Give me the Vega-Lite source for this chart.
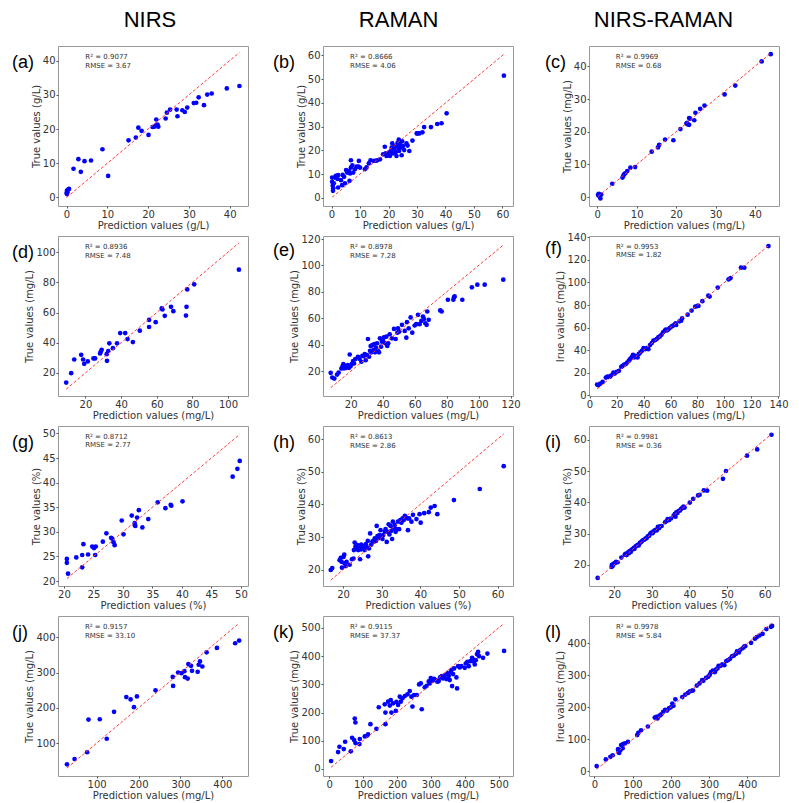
{
"$schema":"https://vega.github.io/schema/vega-lite/v6.json",
"background":"white",
"padding":{"left":11,"top":8,"right":4,"bottom":2},
"spacing":23,
"datasets":{
"a":[{"pred":0.1,"true":1.0},{"pred":0.2,"true":1.5},{"pred":0.1,"true":2.0},{"pred":0.4,"true":2.3},{"pred":0.6,"true":2.5},{"pred":0.0,"true":1.3},{"pred":1.7,"true":8.4},{"pred":2.9,"true":11.2},{"pred":3.5,"true":7.5},{"pred":4.4,"true":10.6},{"pred":6.0,"true":10.8},{"pred":8.8,"true":14.1},{"pred":10.2,"true":6.3},{"pred":15.2,"true":16.7},{"pred":17.0,"true":17.5},{"pred":17.6,"true":20.4},{"pred":18.4,"true":19.5},{"pred":20.1,"true":18.3},{"pred":21.1,"true":20.6},{"pred":21.5,"true":20.7},{"pred":22.0,"true":22.8},{"pred":22.0,"true":21.2},{"pred":22.3,"true":21.3},{"pred":22.5,"true":20.7},{"pred":24.3,"true":23.1},{"pred":24.6,"true":24.8},{"pred":25.4,"true":25.7},{"pred":27.0,"true":25.7},{"pred":27.2,"true":23.75},{"pred":28.4,"true":25.5},{"pred":29.0,"true":25.0},{"pred":29.6,"true":26.3},{"pred":31.2,"true":27.6},{"pred":31.8,"true":27.7},{"pred":32.4,"true":29.3},{"pred":33.7,"true":27.0},{"pred":34.5,"true":30.1},{"pred":35.6,"true":30.4},{"pred":39.3,"true":31.9},{"pred":42.4,"true":32.6}],
"b":[{"pred":0.2,"true":8.5},{"pred":0.2,"true":6.7},{"pred":0.4,"true":5.0},{"pred":0.5,"true":2.9},{"pred":0.6,"true":4.0},{"pred":0.8,"true":6.1},{"pred":1.2,"true":8.5},{"pred":1.5,"true":9.2},{"pred":2.3,"true":9.5},{"pred":2.3,"true":4.3},{"pred":2.1,"true":7.9},{"pred":3.3,"true":7.4},{"pred":3.7,"true":5.3},{"pred":3.9,"true":9.6},{"pred":4.4,"true":8.8},{"pred":4.7,"true":6.1},{"pred":5.1,"true":11.7},{"pred":5.5,"true":10.6},{"pred":6.1,"true":11.3},{"pred":6.3,"true":7.1},{"pred":6.5,"true":10.2},{"pred":6.8,"true":15.8},{"pred":6.8,"true":12.7},{"pred":7.3,"true":13.7},{"pred":7.6,"true":10.6},{"pred":8.2,"true":12.0},{"pred":8.8,"true":13.1},{"pred":9.4,"true":13.1},{"pred":9.6,"true":15.5},{"pred":10.0,"true":12.7},{"pred":11.7,"true":12.0},{"pred":12.3,"true":12.8},{"pred":13.1,"true":14.5},{"pred":13.7,"true":15.8},{"pred":14.9,"true":15.5},{"pred":15.6,"true":15.6},{"pred":16.1,"true":15.8},{"pred":17.0,"true":16.2},{"pred":18.1,"true":18.3},{"pred":18.7,"true":21.5},{"pred":19.0,"true":18.7},{"pred":19.3,"true":17.6},{"pred":19.6,"true":18.3},{"pred":20.1,"true":19.0},{"pred":20.5,"true":17.6},{"pred":20.8,"true":19.7},{"pred":21.1,"true":21.1},{"pred":21.3,"true":22.9},{"pred":21.6,"true":18.7},{"pred":22.0,"true":20.4},{"pred":22.2,"true":21.8},{"pred":22.5,"true":19.2},{"pred":22.8,"true":22.0},{"pred":22.8,"true":17.6},{"pred":23.2,"true":23.1},{"pred":23.4,"true":21.1},{"pred":23.6,"true":24.5},{"pred":23.7,"true":19.7},{"pred":24.0,"true":22.5},{"pred":24.2,"true":23.8},{"pred":24.3,"true":21.1},{"pred":24.6,"true":17.9},{"pred":24.8,"true":23.8},{"pred":25.1,"true":21.8},{"pred":25.5,"true":20.1},{"pred":26.3,"true":22.9},{"pred":26.7,"true":22.0},{"pred":27.3,"true":19.7},{"pred":28.4,"true":24.1},{"pred":29.9,"true":27.1},{"pred":30.2,"true":27.1},{"pred":30.8,"true":27.1},{"pred":31.9,"true":27.6},{"pred":32.5,"true":29.8},{"pred":34.9,"true":29.8},{"pred":37.1,"true":31.1},{"pred":38.6,"true":31.4},{"pred":40.4,"true":35.6},{"pred":60.5,"true":51.5}],
"c":[{"pred":0.2,"true":0.8},{"pred":0.4,"true":1.0},{"pred":0.6,"true":0.3},{"pred":0.8,"true":-0.4},{"pred":1.0,"true":0.8},{"pred":0.5,"true":0.6},{"pred":0.3,"true":0.5},{"pred":3.8,"true":4.1},{"pred":6.4,"true":6.0},{"pred":6.6,"true":6.5},{"pred":6.8,"true":7.0},{"pred":7.1,"true":7.3},{"pred":7.6,"true":8.0},{"pred":8.4,"true":9.0},{"pred":9.6,"true":9.2},{"pred":13.8,"true":13.9},{"pred":15.4,"true":15.2},{"pred":15.7,"true":16.0},{"pred":17.2,"true":17.6},{"pred":19.3,"true":17.4},{"pred":21.1,"true":20.8},{"pred":22.6,"true":22.5},{"pred":22.8,"true":22.7},{"pred":23.0,"true":22.2},{"pred":23.3,"true":22.1},{"pred":23.3,"true":24.2},{"pred":23.5,"true":24.0},{"pred":24.6,"true":23.5},{"pred":24.9,"true":25.8},{"pred":26.1,"true":27.0},{"pred":27.2,"true":28.0},{"pred":32.3,"true":31.4},{"pred":35.0,"true":34.1},{"pred":41.7,"true":41.5},{"pred":44.0,"true":43.7}],
"d":[{"pred":9.2,"true":13.6},{"pred":12.0,"true":19.8},{"pred":13.7,"true":28.9},{"pred":17.6,"true":32.0},{"pred":18.7,"true":28.9},{"pred":19.3,"true":26.0},{"pred":21.3,"true":27.6},{"pred":24.5,"true":29.6},{"pred":25.4,"true":29.6},{"pred":28.2,"true":32.9},{"pred":28.6,"true":34.0},{"pred":29.1,"true":35.3},{"pred":31.9,"true":32.4},{"pred":32.1,"true":28.0},{"pred":32.8,"true":34.4},{"pred":33.4,"true":39.6},{"pred":35.4,"true":36.4},{"pred":37.7,"true":39.6},{"pred":39.5,"true":46.4},{"pred":42.3,"true":46.4},{"pred":43.6,"true":42.4},{"pred":46.6,"true":40.4},{"pred":50.5,"true":48.0},{"pred":55.7,"true":55.1},{"pred":55.7,"true":50.4},{"pred":59.4,"true":53.6},{"pred":62.8,"true":62.7},{"pred":63.2,"true":62.0},{"pred":64.5,"true":57.8},{"pred":68.0,"true":63.8},{"pred":69.3,"true":60.9},{"pred":76.4,"true":58.0},{"pred":76.7,"true":63.8},{"pred":77.1,"true":75.3},{"pred":81.0,"true":78.7},{"pred":106.1,"true":88.4}],
"e":[{"pred":7.5,"true":18.8},{"pred":8.5,"true":15.2},{"pred":9.8,"true":14.5},{"pred":11.5,"true":17.5},{"pred":12.5,"true":19.0},{"pred":14.2,"true":22.1},{"pred":14.8,"true":23.4},{"pred":15.4,"true":25.4},{"pred":15.8,"true":22.1},{"pred":16.7,"true":24.1},{"pred":17.3,"true":22.6},{"pred":18.3,"true":24.6},{"pred":19.0,"true":22.6},{"pred":19.4,"true":32.7},{"pred":20.0,"true":23.9},{"pred":20.8,"true":25.6},{"pred":21.5,"true":27.7},{"pred":22.1,"true":25.9},{"pred":22.9,"true":29.2},{"pred":24.6,"true":31.0},{"pred":25.6,"true":29.2},{"pred":26.7,"true":27.2},{"pred":27.3,"true":31.7},{"pred":28.1,"true":31.5},{"pred":28.8,"true":33.0},{"pred":29.4,"true":28.4},{"pred":30.2,"true":32.2},{"pred":30.8,"true":44.4},{"pred":31.5,"true":31.0},{"pred":32.1,"true":35.5},{"pred":32.5,"true":39.1},{"pred":32.9,"true":34.3},{"pred":33.5,"true":39.8},{"pred":34.2,"true":36.0},{"pred":34.8,"true":40.6},{"pred":35.2,"true":34.3},{"pred":35.8,"true":37.8},{"pred":36.5,"true":41.1},{"pred":37.1,"true":35.5},{"pred":37.7,"true":34.3},{"pred":38.3,"true":44.9},{"pred":39.0,"true":38.6},{"pred":39.6,"true":42.4},{"pred":40.2,"true":43.7},{"pred":40.8,"true":45.7},{"pred":41.7,"true":41.1},{"pred":42.3,"true":46.2},{"pred":42.9,"true":39.1},{"pred":43.5,"true":41.1},{"pred":44.4,"true":48.0},{"pred":45.8,"true":44.9},{"pred":47.1,"true":52.0},{"pred":48.1,"true":44.4},{"pred":49.2,"true":49.2},{"pred":49.6,"true":52.5},{"pred":50.4,"true":50.0},{"pred":52.1,"true":55.1},{"pred":53.8,"true":50.5},{"pred":54.8,"true":45.4},{"pred":55.2,"true":57.1},{"pred":56.3,"true":52.5},{"pred":57.5,"true":60.7},{"pred":58.5,"true":49.2},{"pred":60.0,"true":54.6},{"pred":61.0,"true":55.6},{"pred":62.1,"true":62.7},{"pred":63.1,"true":55.6},{"pred":64.2,"true":58.1},{"pred":65.2,"true":61.4},{"pred":65.8,"true":59.6},{"pred":66.7,"true":56.3},{"pred":67.5,"true":55.1},{"pred":67.9,"true":65.2},{"pred":68.8,"true":58.9},{"pred":76.0,"true":66.0},{"pred":76.9,"true":65.2},{"pred":80.8,"true":74.1},{"pred":84.2,"true":74.1},{"pred":84.6,"true":75.9},{"pred":85.0,"true":76.6},{"pred":89.8,"true":74.1},{"pred":95.8,"true":83.5},{"pred":99.2,"true":85.5},{"pred":103.8,"true":85.5},{"pred":115.4,"true":89.3}],
"f":[{"pred":5.6,"true":9.5},{"pred":6.5,"true":8.9},{"pred":8.0,"true":10.4},{"pred":9.7,"true":11.9},{"pred":12.1,"true":15.7},{"pred":13.3,"true":16.6},{"pred":14.1,"true":16.3},{"pred":15.3,"true":16.6},{"pred":16.2,"true":17.8},{"pred":17.7,"true":20.2},{"pred":18.7,"true":19.3},{"pred":20.1,"true":20.8},{"pred":21.8,"true":21.7},{"pred":23.5,"true":25.2},{"pred":24.5,"true":26.1},{"pred":25.5,"true":27.0},{"pred":26.7,"true":27.6},{"pred":27.9,"true":29.1},{"pred":29.1,"true":30.6},{"pred":29.8,"true":31.8},{"pred":30.8,"true":32.9},{"pred":31.5,"true":34.1},{"pred":32.2,"true":35.9},{"pred":33.0,"true":33.5},{"pred":33.7,"true":35.0},{"pred":34.7,"true":34.1},{"pred":35.6,"true":33.5},{"pred":36.4,"true":36.5},{"pred":37.6,"true":38.0},{"pred":38.8,"true":39.5},{"pred":40.0,"true":41.8},{"pred":41.2,"true":40.9},{"pred":42.4,"true":41.8},{"pred":43.6,"true":40.9},{"pred":44.8,"true":44.5},{"pred":46.1,"true":46.3},{"pred":47.3,"true":48.4},{"pred":48.7,"true":49.0},{"pred":49.7,"true":49.9},{"pred":50.9,"true":51.3},{"pred":52.1,"true":52.2},{"pred":53.3,"true":53.7},{"pred":54.5,"true":55.8},{"pred":55.8,"true":57.3},{"pred":56.5,"true":58.2},{"pred":57.5,"true":57.6},{"pred":58.4,"true":58.5},{"pred":59.4,"true":59.6},{"pred":60.6,"true":60.8},{"pred":61.8,"true":61.7},{"pred":63.0,"true":62.6},{"pred":64.2,"true":62.3},{"pred":63.8,"true":63.8},{"pred":66.7,"true":65.6},{"pred":67.9,"true":66.2},{"pred":68.6,"true":68.2},{"pred":72.7,"true":71.5},{"pred":75.6,"true":75.1},{"pred":78.3,"true":78.6},{"pred":80.0,"true":79.2},{"pred":80.7,"true":79.2},{"pred":83.6,"true":83.4},{"pred":88.0,"true":88.4},{"pred":89.0,"true":87.5},{"pred":95.0,"true":95.5},{"pred":103.0,"true":102.7},{"pred":104.5,"true":103.9},{"pred":112.2,"true":113.1},{"pred":114.7,"true":113.1},{"pred":132.6,"true":132.3}],
"g":[{"pred":20.5,"true":24.5},{"pred":20.5,"true":23.7},{"pred":20.7,"true":21.5},{"pred":22.1,"true":24.8},{"pred":23.1,"true":25.3},{"pred":23.3,"true":27.5},{"pred":23.1,"true":22.8},{"pred":24.1,"true":25.4},{"pred":24.8,"true":27.0},{"pred":25.1,"true":26.7},{"pred":25.4,"true":27.0},{"pred":25.3,"true":25.3},{"pred":26.6,"true":28.0},{"pred":27.2,"true":29.7},{"pred":28.0,"true":28.8},{"pred":28.2,"true":28.6},{"pred":28.4,"true":27.9},{"pred":28.6,"true":27.3},{"pred":29.8,"true":32.3},{"pred":30.1,"true":29.5},{"pred":31.5,"true":33.3},{"pred":32.0,"true":31.4},{"pred":32.0,"true":31.8},{"pred":32.1,"true":31.2},{"pred":32.4,"true":32.9},{"pred":32.7,"true":34.4},{"pred":33.3,"true":30.9},{"pred":34.3,"true":32.6},{"pred":35.9,"true":36.0},{"pred":37.2,"true":34.8},{"pred":38.1,"true":35.5},{"pred":38.2,"true":35.3},{"pred":40.1,"true":36.2},{"pred":48.6,"true":41.2},{"pred":49.4,"true":42.8},{"pred":49.8,"true":44.4}],
"h":[{"pred":16.8,"true":19.9},{"pred":17.2,"true":20.5},{"pred":19.1,"true":22.9},{"pred":19.4,"true":23.6},{"pred":19.6,"true":22.4},{"pred":19.7,"true":20.6},{"pred":20.1,"true":23.9},{"pred":20.3,"true":24.6},{"pred":20.4,"true":21.9},{"pred":20.7,"true":21.1},{"pred":20.9,"true":22.4},{"pred":21.7,"true":21.5},{"pred":22.3,"true":23.2},{"pred":22.7,"true":23.4},{"pred":22.8,"true":26.0},{"pred":23.0,"true":28.3},{"pred":23.2,"true":27.0},{"pred":23.5,"true":26.5},{"pred":23.7,"true":27.5},{"pred":23.9,"true":26.0},{"pred":24.1,"true":26.8},{"pred":24.4,"true":23.2},{"pred":24.6,"true":26.2},{"pred":24.7,"true":27.7},{"pred":25.0,"true":26.7},{"pred":25.3,"true":27.2},{"pred":25.6,"true":26.0},{"pred":25.9,"true":27.8},{"pred":26.1,"true":27.0},{"pred":26.4,"true":28.8},{"pred":26.5,"true":24.1},{"pred":26.7,"true":26.5},{"pred":27.0,"true":31.1},{"pred":27.3,"true":27.7},{"pred":27.6,"true":28.7},{"pred":27.9,"true":28.5},{"pred":28.2,"true":29.6},{"pred":28.5,"true":28.8},{"pred":28.7,"true":33.4},{"pred":28.9,"true":30.3},{"pred":29.1,"true":29.6},{"pred":29.4,"true":30.6},{"pred":29.7,"true":32.1},{"pred":29.9,"true":30.1},{"pred":30.2,"true":29.4},{"pred":30.4,"true":30.6},{"pred":30.8,"true":31.6},{"pred":31.0,"true":32.4},{"pred":31.3,"true":28.5},{"pred":31.6,"true":31.6},{"pred":31.8,"true":33.9},{"pred":32.0,"true":30.8},{"pred":32.3,"true":33.4},{"pred":32.5,"true":31.9},{"pred":32.7,"true":29.4},{"pred":32.9,"true":34.7},{"pred":33.1,"true":32.7},{"pred":33.4,"true":33.7},{"pred":33.6,"true":31.6},{"pred":33.9,"true":32.4},{"pred":34.2,"true":34.7},{"pred":34.5,"true":32.4},{"pred":34.8,"true":35.2},{"pred":35.1,"true":34.4},{"pred":35.4,"true":35.7},{"pred":35.7,"true":35.2},{"pred":36.0,"true":36.5},{"pred":36.4,"true":35.9},{"pred":36.7,"true":35.7},{"pred":36.8,"true":32.1},{"pred":37.1,"true":35.7},{"pred":37.7,"true":34.7},{"pred":38.1,"true":36.8},{"pred":39.0,"true":35.5},{"pred":39.8,"true":37.0},{"pred":40.1,"true":34.4},{"pred":41.0,"true":37.3},{"pred":42.2,"true":37.6},{"pred":42.7,"true":39.0},{"pred":43.7,"true":39.5},{"pred":44.4,"true":37.0},{"pred":48.7,"true":41.3},{"pred":55.4,"true":44.7},{"pred":61.6,"true":51.7}],
"i":[{"pred":15.6,"true":15.8},{"pred":19.3,"true":19.3},{"pred":19.4,"true":20.0},{"pred":19.6,"true":19.6},{"pred":19.8,"true":20.3},{"pred":20.2,"true":20.5},{"pred":20.5,"true":20.9},{"pred":20.9,"true":20.8},{"pred":21.9,"true":22.3},{"pred":22.8,"true":23.2},{"pred":23.0,"true":23.5},{"pred":23.3,"true":23.1},{"pred":23.6,"true":23.9},{"pred":23.9,"true":23.7},{"pred":24.1,"true":24.4},{"pred":24.4,"true":24.1},{"pred":24.6,"true":24.8},{"pred":24.9,"true":25.0},{"pred":25.2,"true":25.4},{"pred":25.4,"true":25.1},{"pred":25.7,"true":25.9},{"pred":26.0,"true":26.1},{"pred":26.3,"true":26.4},{"pred":26.5,"true":26.2},{"pred":26.8,"true":27.0},{"pred":27.1,"true":27.2},{"pred":27.4,"true":27.6},{"pred":27.7,"true":27.9},{"pred":28.0,"true":28.0},{"pred":28.3,"true":28.4},{"pred":28.6,"true":28.5},{"pred":28.9,"true":29.1},{"pred":29.3,"true":29.3},{"pred":29.6,"true":30.0},{"pred":29.9,"true":30.3},{"pred":30.2,"true":30.1},{"pred":30.4,"true":30.6},{"pred":30.7,"true":30.9},{"pred":31.0,"true":31.2},{"pred":31.3,"true":31.0},{"pred":31.6,"true":32.1},{"pred":31.9,"true":31.7},{"pred":32.2,"true":32.3},{"pred":32.6,"true":32.4},{"pred":33.5,"true":33.6},{"pred":33.9,"true":34.0},{"pred":34.2,"true":34.6},{"pred":34.6,"true":34.3},{"pred":35.1,"true":34.8},{"pred":35.8,"true":35.7},{"pred":36.1,"true":36.2},{"pred":36.3,"true":35.4},{"pred":36.5,"true":36.8},{"pred":36.8,"true":36.6},{"pred":37.1,"true":37.2},{"pred":37.5,"true":37.4},{"pred":37.8,"true":37.9},{"pred":38.1,"true":38.2},{"pred":38.4,"true":38.6},{"pred":38.7,"true":38.3},{"pred":40.1,"true":39.9},{"pred":41.0,"true":41.1},{"pred":42.3,"true":42.2},{"pred":42.7,"true":42.4},{"pred":43.8,"true":43.8},{"pred":44.7,"true":43.7},{"pred":48.9,"true":47.5},{"pred":49.7,"true":50.0},{"pred":55.3,"true":54.9},{"pred":58.0,"true":56.9},{"pred":61.8,"true":61.6}],
"j":[{"pred":29.3,"true":40.0},{"pred":47.5,"true":55.2},{"pred":77.5,"true":74.3},{"pred":80.7,"true":166.7},{"pred":107.6,"true":167.6},{"pred":124.2,"true":112.4},{"pred":141.6,"true":188.6},{"pred":170.9,"true":230.5},{"pred":181.2,"true":223.8},{"pred":189.1,"true":201.9},{"pred":196.2,"true":232.4},{"pred":240.5,"true":249.5},{"pred":281.6,"true":287.6},{"pred":282.4,"true":261.9},{"pred":294.3,"true":300.0},{"pred":302.2,"true":298.1},{"pred":309.3,"true":303.8},{"pred":310.9,"true":286.7},{"pred":317.2,"true":282.9},{"pred":318.8,"true":323.8},{"pred":325.2,"true":319.0},{"pred":327.5,"true":304.8},{"pred":341.0,"true":301.9},{"pred":343.4,"true":321.9},{"pred":346.5,"true":331.4},{"pred":352.1,"true":317.1},{"pred":362.3,"true":357.1},{"pred":386.9,"true":369.5},{"pred":430.4,"true":382.9},{"pred":439.9,"true":390.5}],
"k":[{"pred":5.9,"true":28.2},{"pred":26.5,"true":59.9},{"pred":30.5,"true":78.7},{"pred":43.2,"true":70.5},{"pred":47.2,"true":96.4},{"pred":63.9,"true":62.3},{"pred":67.8,"true":110.5},{"pred":73.7,"true":102.2},{"pred":75.6,"true":178.6},{"pred":77.6,"true":164.5},{"pred":77.6,"true":91.7},{"pred":89.4,"true":88.1},{"pred":90.4,"true":105.8},{"pred":105.1,"true":115.2},{"pred":111.0,"true":117.5},{"pred":114.9,"true":122.2},{"pred":121.8,"true":158.6},{"pred":139.5,"true":142.2},{"pred":146.4,"true":218.6},{"pred":164.0,"true":229.1},{"pred":166.0,"true":199.8},{"pred":166.0,"true":158.6},{"pred":173.9,"true":238.5},{"pred":178.8,"true":224.4},{"pred":181.7,"true":244.4},{"pred":183.7,"true":199.8},{"pred":188.6,"true":232.7},{"pred":196.5,"true":205.6},{"pred":198.4,"true":237.4},{"pred":203.3,"true":226.8},{"pred":208.3,"true":256.2},{"pred":211.2,"true":238.5},{"pred":216.1,"true":250.3},{"pred":223.0,"true":258.5},{"pred":230.8,"true":264.4},{"pred":237.7,"true":276.1},{"pred":242.6,"true":256.2},{"pred":245.6,"true":220.9},{"pred":250.5,"true":262.0},{"pred":258.3,"true":262.0},{"pred":265.2,"true":299.6},{"pred":270.1,"true":303.2},{"pred":273.1,"true":211.5},{"pred":281.9,"true":289.1},{"pred":287.8,"true":294.9},{"pred":293.7,"true":310.2},{"pred":296.7,"true":303.2},{"pred":299.6,"true":322.0},{"pred":304.5,"true":312.6},{"pred":309.4,"true":319.6},{"pred":314.3,"true":314.9},{"pred":319.3,"true":309.1},{"pred":323.2,"true":311.4},{"pred":327.1,"true":324.3},{"pred":332.0,"true":329.0},{"pred":336.0,"true":320.8},{"pred":340.9,"true":332.5},{"pred":345.8,"true":318.4},{"pred":348.7,"true":338.4},{"pred":352.7,"true":329.0},{"pred":355.6,"true":314.9},{"pred":357.6,"true":341.9},{"pred":360.5,"true":350.2},{"pred":362.5,"true":293.8},{"pred":365.4,"true":336.1},{"pred":368.4,"true":356.1},{"pred":375.2,"true":324.3},{"pred":377.2,"true":285.5},{"pred":380.2,"true":364.3},{"pred":385.0,"true":359.6},{"pred":390.0,"true":364.3},{"pred":399.8,"true":358.4},{"pred":402.8,"true":373.7},{"pred":407.7,"true":379.6},{"pred":411.6,"true":364.3},{"pred":416.5,"true":381.9},{"pred":421.4,"true":393.7},{"pred":424.4,"true":387.8},{"pred":427.3,"true":379.6},{"pred":429.3,"true":370.2},{"pred":432.2,"true":385.5},{"pred":436.2,"true":406.6},{"pred":439.1,"true":414.8},{"pred":442.0,"true":399.5},{"pred":453.8,"true":393.7},{"pred":466.6,"true":408.9},{"pred":515.7,"true":418.3}],
"l":[{"pred":6,"true":16},{"pred":30,"true":37},{"pred":42,"true":45},{"pred":48,"true":50},{"pred":62,"true":69},{"pred":63,"true":60},{"pred":65,"true":57},{"pred":68,"true":66},{"pred":70,"true":82},{"pred":74,"true":72},{"pred":75,"true":85},{"pred":80,"true":87},{"pred":88,"true":92},{"pred":112,"true":113},{"pred":115,"true":120},{"pred":122,"true":128},{"pred":140,"true":140},{"pred":158,"true":168},{"pred":162,"true":170},{"pred":165,"true":165},{"pred":168,"true":172},{"pred":172,"true":175},{"pred":175,"true":178},{"pred":180,"true":186},{"pred":185,"true":192},{"pred":190,"true":190},{"pred":195,"true":197},{"pred":200,"true":200},{"pred":204,"true":212},{"pred":207,"true":205},{"pred":212,"true":225},{"pred":230,"true":232},{"pred":238,"true":240},{"pred":245,"true":245},{"pred":250,"true":250},{"pred":255,"true":252},{"pred":258,"true":253},{"pred":268,"true":268},{"pred":275,"true":275},{"pred":282,"true":285},{"pred":285,"true":283},{"pred":292,"true":292},{"pred":298,"true":296},{"pred":302,"true":302},{"pred":305,"true":310},{"pred":310,"true":315},{"pred":315,"true":310},{"pred":318,"true":318},{"pred":322,"true":322},{"pred":325,"true":330},{"pred":330,"true":330},{"pred":335,"true":335},{"pred":340,"true":332},{"pred":345,"true":345},{"pred":350,"true":348},{"pred":355,"true":352},{"pred":360,"true":360},{"pred":365,"true":362},{"pred":370,"true":367},{"pred":373,"true":375},{"pred":378,"true":372},{"pred":382,"true":380},{"pred":388,"true":385},{"pred":392,"true":390},{"pred":395,"true":392},{"pred":410,"true":402},{"pred":420,"true":415},{"pred":425,"true":420},{"pred":432,"true":425},{"pred":440,"true":430},{"pred":450,"true":445},{"pred":462,"true":452},{"pred":465,"true":455}],
"one":[{}]
},
"hconcat":[
{"title":{"text":"NIRS","anchor":"middle","frame":"bounds","dx":20,"offset":-8,"baseline":"bottom","fontSize":22},
 "bounds":"flush","spacing":30,
 "vconcat":[
  {"width":190,"height":160,"title":{"text":"(a)","dx":-46},"data":{"name":"a"},"layer":[
   {"mark":{"type":"point","filled":true,"size":22,"color":"#0000ff","opacity":1},"encoding":{"x":{"field":"pred","type":"quantitative","scale":{"domain":[-2.1,44.5],"nice":false,"zero":false},"axis":{"title":"Prediction values (g/L)","values":[0,10,20,30,40]}},"y":{"field":"true","type":"quantitative","scale":{"domain":[-2.5,44.3],"nice":false,"zero":false},"axis":{"title":"True values (g/L)","values":[0,10,20,30,40]}}}},
   {"mark":{"type":"rule","color":"#ff3b3b","strokeDash":[3,2],"strokeWidth":1},"encoding":{"x":{"aggregate":"min","field":"pred","type":"quantitative"},"y":{"aggregate":"min","field":"pred","type":"quantitative"},"x2":{"aggregate":"max","field":"pred"},"y2":{"aggregate":"max","field":"pred"}}},
   {"data":{"name":"one"},"mark":{"type":"text","text":["R² = 0.9077","RMSE = 3.67"],"align":"left","baseline":"top","fontSize":7,"lineHeight":8.5,"color":"#333"},"encoding":{"x":{"datum":4.6,"type":"quantitative"},"y":{"datum":42.2,"type":"quantitative"}}}]},
  {"width":190,"height":160,"title":{"text":"(d)","dx":-46},"data":{"name":"d"},"layer":[
   {"mark":{"type":"point","filled":true,"size":22,"color":"#0000ff","opacity":1},"encoding":{"x":{"field":"pred","type":"quantitative","scale":{"domain":[4.6,111.2],"nice":false,"zero":false},"axis":{"title":"Prediction values (mg/L)","values":[20,40,60,80,100]}},"y":{"field":"true","type":"quantitative","scale":{"domain":[4.7,110.7],"nice":false,"zero":false},"axis":{"title":"True values (mg/L)","values":[20,40,60,80,100]}}}},
   {"mark":{"type":"rule","color":"#ff3b3b","strokeDash":[3,2],"strokeWidth":1},"encoding":{"x":{"aggregate":"min","field":"pred","type":"quantitative"},"y":{"aggregate":"min","field":"pred","type":"quantitative"},"x2":{"aggregate":"max","field":"pred"},"y2":{"aggregate":"max","field":"pred"}}},
   {"data":{"name":"one"},"mark":{"type":"text","text":["R² = 0.8936","RMSE = 7.48"],"align":"left","baseline":"top","fontSize":7,"lineHeight":8.5,"color":"#333"},"encoding":{"x":{"datum":19.7,"type":"quantitative"},"y":{"datum":106.0,"type":"quantitative"}}}]},
  {"width":190,"height":160,"title":{"text":"(g)","dx":-46},"data":{"name":"g"},"layer":[
   {"mark":{"type":"point","filled":true,"size":22,"color":"#0000ff","opacity":1},"encoding":{"x":{"field":"pred","type":"quantitative","scale":{"domain":[19.0,51.2],"nice":false,"zero":false},"axis":{"title":"Prediction values (%)","values":[20,25,30,35,40,45,50]}},"y":{"field":"true","type":"quantitative","scale":{"domain":[19.0,51.5],"nice":false,"zero":false},"axis":{"title":"True values (%)","values":[20,25,30,35,40,45,50]}}}},
   {"mark":{"type":"rule","color":"#ff3b3b","strokeDash":[3,2],"strokeWidth":1},"encoding":{"x":{"aggregate":"min","field":"pred","type":"quantitative"},"y":{"aggregate":"min","field":"pred","type":"quantitative"},"x2":{"aggregate":"max","field":"pred"},"y2":{"aggregate":"max","field":"pred"}}},
   {"data":{"name":"one"},"mark":{"type":"text","text":["R² = 0.8712","RMSE = 2.77"],"align":"left","baseline":"top","fontSize":7,"lineHeight":8.5,"color":"#333"},"encoding":{"x":{"datum":23.6,"type":"quantitative"},"y":{"datum":50.1,"type":"quantitative"}}}]},
  {"width":190,"height":160,"title":{"text":"(j)","dx":-46},"data":{"name":"j"},"layer":[
   {"mark":{"type":"point","filled":true,"size":22,"color":"#0000ff","opacity":1},"encoding":{"x":{"field":"pred","type":"quantitative","scale":{"domain":[8,461],"nice":false,"zero":false},"axis":{"title":"Prediction values (mg/L)","values":[100,200,300,400]}},"y":{"field":"true","type":"quantitative","scale":{"domain":[7,460],"nice":false,"zero":false},"axis":{"title":"True values (mg/L)","values":[100,200,300,400]}}}},
   {"mark":{"type":"rule","color":"#ff3b3b","strokeDash":[3,2],"strokeWidth":1},"encoding":{"x":{"aggregate":"min","field":"pred","type":"quantitative"},"y":{"aggregate":"min","field":"pred","type":"quantitative"},"x2":{"aggregate":"max","field":"pred"},"y2":{"aggregate":"max","field":"pred"}}},
   {"data":{"name":"one"},"mark":{"type":"text","text":["R² = 0.9157","RMSE = 33.10"],"align":"left","baseline":"top","fontSize":7,"lineHeight":8.5,"color":"#333"},"encoding":{"x":{"datum":72.3,"type":"quantitative"},"y":{"datum":440,"type":"quantitative"}}}]}
 ]},
{"title":{"text":"RAMAN","anchor":"middle","frame":"bounds","dx":2,"offset":-8,"baseline":"bottom","fontSize":22},
 "bounds":"flush","spacing":30,
 "vconcat":[
  {"width":190,"height":160,"title":{"text":"(b)","dx":-50},"data":{"name":"b"},"layer":[
   {"mark":{"type":"point","filled":true,"size":22,"color":"#0000ff","opacity":1},"encoding":{"x":{"field":"pred","type":"quantitative","scale":{"domain":[-3,63.7],"nice":false,"zero":false},"axis":{"title":"Prediction values (g/L)","values":[0,10,20,30,40,50,60]}},"y":{"field":"true","type":"quantitative","scale":{"domain":[-3.5,64],"nice":false,"zero":false},"axis":{"title":"True values (g/L)","values":[0,10,20,30,40,50,60]}}}},
   {"mark":{"type":"rule","color":"#ff3b3b","strokeDash":[3,2],"strokeWidth":1},"encoding":{"x":{"aggregate":"min","field":"pred","type":"quantitative"},"y":{"aggregate":"min","field":"pred","type":"quantitative"},"x2":{"aggregate":"max","field":"pred"},"y2":{"aggregate":"max","field":"pred"}}},
   {"data":{"name":"one"},"mark":{"type":"text","text":["R² = 0.8666","RMSE = 4.06"],"align":"left","baseline":"top","fontSize":7,"lineHeight":8.5,"color":"#333"},"encoding":{"x":{"datum":6.5,"type":"quantitative"},"y":{"datum":61.0,"type":"quantitative"}}}]},
  {"width":190,"height":160,"title":{"text":"(e)","dx":-50},"data":{"name":"e"},"layer":[
   {"mark":{"type":"point","filled":true,"size":22,"color":"#0000ff","opacity":1},"encoding":{"x":{"field":"pred","type":"quantitative","scale":{"domain":[2.7,121.5],"nice":false,"zero":false},"axis":{"title":"Prediction values (mg/L)","values":[20,40,60,80,100,120]}},"y":{"field":"true","type":"quantitative","scale":{"domain":[1.3,122.3],"nice":false,"zero":false},"axis":{"title":"True values (mg/L)","values":[20,40,60,80,100,120]}}}},
   {"mark":{"type":"rule","color":"#ff3b3b","strokeDash":[3,2],"strokeWidth":1},"encoding":{"x":{"aggregate":"min","field":"pred","type":"quantitative"},"y":{"aggregate":"min","field":"pred","type":"quantitative"},"x2":{"aggregate":"max","field":"pred"},"y2":{"aggregate":"max","field":"pred"}}},
   {"data":{"name":"one"},"mark":{"type":"text","text":["R² = 0.8978","RMSE = 7.28"],"align":"left","baseline":"top","fontSize":7,"lineHeight":8.5,"color":"#333"},"encoding":{"x":{"datum":19.6,"type":"quantitative"},"y":{"datum":117.0,"type":"quantitative"}}}]},
  {"width":190,"height":160,"title":{"text":"(h)","dx":-50},"data":{"name":"h"},"layer":[
   {"mark":{"type":"point","filled":true,"size":22,"color":"#0000ff","opacity":1},"encoding":{"x":{"field":"pred","type":"quantitative","scale":{"domain":[14.8,64.0],"nice":false,"zero":false},"axis":{"title":"Prediction values (%)","values":[20,30,40,50,60]}},"y":{"field":"true","type":"quantitative","scale":{"domain":[15.0,64.0],"nice":false,"zero":false},"axis":{"title":"True values (%)","values":[20,30,40,50,60]}}}},
   {"mark":{"type":"rule","color":"#ff3b3b","strokeDash":[3,2],"strokeWidth":1},"encoding":{"x":{"aggregate":"min","field":"pred","type":"quantitative"},"y":{"aggregate":"min","field":"pred","type":"quantitative"},"x2":{"aggregate":"max","field":"pred"},"y2":{"aggregate":"max","field":"pred"}}},
   {"data":{"name":"one"},"mark":{"type":"text","text":["R² = 0.8613","RMSE = 2.86"],"align":"left","baseline":"top","fontSize":7,"lineHeight":8.5,"color":"#333"},"encoding":{"x":{"datum":21.8,"type":"quantitative"},"y":{"datum":61.8,"type":"quantitative"}}}]},
  {"width":190,"height":160,"title":{"text":"(k)","dx":-50},"data":{"name":"k"},"layer":[
   {"mark":{"type":"point","filled":true,"size":22,"color":"#0000ff","opacity":1},"encoding":{"x":{"field":"pred","type":"quantitative","scale":{"domain":[-18,542],"nice":false,"zero":false},"axis":{"title":"Prediction values (mg/L)","values":[0,100,200,300,400,500]}},"y":{"field":"true","type":"quantitative","scale":{"domain":[-25,542],"nice":false,"zero":false},"axis":{"title":"True values (mg/L)","values":[0,100,200,300,400,500]}}}},
   {"mark":{"type":"rule","color":"#ff3b3b","strokeDash":[3,2],"strokeWidth":1},"encoding":{"x":{"aggregate":"min","field":"pred","type":"quantitative"},"y":{"aggregate":"min","field":"pred","type":"quantitative"},"x2":{"aggregate":"max","field":"pred"},"y2":{"aggregate":"max","field":"pred"}}},
   {"data":{"name":"one"},"mark":{"type":"text","text":["R² = 0.9115","RMSE = 37.37"],"align":"left","baseline":"top","fontSize":7,"lineHeight":8.5,"color":"#333"},"encoding":{"x":{"datum":61.5,"type":"quantitative"},"y":{"datum":517,"type":"quantitative"}}}]}
 ]},
{"title":{"text":"NIRS-RAMAN","anchor":"middle","frame":"bounds","dx":-3,"offset":-8,"baseline":"bottom","fontSize":22},
 "bounds":"flush","spacing":30,
 "vconcat":[
  {"width":190,"height":160,"title":{"text":"(c)","dx":-44},"data":{"name":"c"},"layer":[
   {"mark":{"type":"point","filled":true,"size":22,"color":"#0000ff","opacity":1},"encoding":{"x":{"field":"pred","type":"quantitative","scale":{"domain":[-2.1,46.1],"nice":false,"zero":false},"axis":{"title":"Prediction values (mg/L)","values":[0,10,20,30,40]}},"y":{"field":"true","type":"quantitative","scale":{"domain":[-2.7,46.2],"nice":false,"zero":false},"axis":{"title":"True values (mg/L)","values":[0,10,20,30,40]}}}},
   {"mark":{"type":"rule","color":"#ff3b3b","strokeDash":[3,2],"strokeWidth":1},"encoding":{"x":{"aggregate":"min","field":"pred","type":"quantitative"},"y":{"aggregate":"min","field":"pred","type":"quantitative"},"x2":{"aggregate":"max","field":"pred"},"y2":{"aggregate":"max","field":"pred"}}},
   {"data":{"name":"one"},"mark":{"type":"text","text":["R² = 0.9969","RMSE = 0.68"],"align":"left","baseline":"top","fontSize":7,"lineHeight":8.5,"color":"#333"},"encoding":{"x":{"datum":4.7,"type":"quantitative"},"y":{"datum":44.0,"type":"quantitative"}}}]},
  {"width":190,"height":160,"title":{"text":"(f)","dx":-44},"data":{"name":"f"},"layer":[
   {"mark":{"type":"point","filled":true,"size":22,"color":"#0000ff","opacity":1},"encoding":{"x":{"field":"pred","type":"quantitative","scale":{"domain":[-0.4,140.4],"nice":false,"zero":false},"axis":{"title":"Prediction values (mg/L)","values":[0,20,40,60,80,100,120,140]}},"y":{"field":"true","type":"quantitative","scale":{"domain":[-0.6,141.2],"nice":false,"zero":false},"axis":{"title":"Irue values (mg/L)","values":[0,20,40,60,80,100,120,140]}}}},
   {"mark":{"type":"rule","color":"#ff3b3b","strokeDash":[3,2],"strokeWidth":1},"encoding":{"x":{"aggregate":"min","field":"pred","type":"quantitative"},"y":{"aggregate":"min","field":"pred","type":"quantitative"},"x2":{"aggregate":"max","field":"pred"},"y2":{"aggregate":"max","field":"pred"}}},
   {"data":{"name":"one"},"mark":{"type":"text","text":["R² = 0.9953","RMSE = 1.82"],"align":"left","baseline":"top","fontSize":7,"lineHeight":8.5,"color":"#333"},"encoding":{"x":{"datum":19.6,"type":"quantitative"},"y":{"datum":135.0,"type":"quantitative"}}}]},
  {"width":190,"height":160,"title":{"text":"(i)","dx":-44},"data":{"name":"i"},"layer":[
   {"mark":{"type":"point","filled":true,"size":22,"color":"#0000ff","opacity":1},"encoding":{"x":{"field":"pred","type":"quantitative","scale":{"domain":[13.3,63.8],"nice":false,"zero":false},"axis":{"title":"Prediction values (%)","values":[20,30,40,50,60]}},"y":{"field":"true","type":"quantitative","scale":{"domain":[13.2,64.4],"nice":false,"zero":false},"axis":{"title":"True values (%)","values":[20,30,40,50,60]}}}},
   {"mark":{"type":"rule","color":"#ff3b3b","strokeDash":[3,2],"strokeWidth":1},"encoding":{"x":{"aggregate":"min","field":"pred","type":"quantitative"},"y":{"aggregate":"min","field":"pred","type":"quantitative"},"x2":{"aggregate":"max","field":"pred"},"y2":{"aggregate":"max","field":"pred"}}},
   {"data":{"name":"one"},"mark":{"type":"text","text":["R² = 0.9981","RMSE = 0.36"],"align":"left","baseline":"top","fontSize":7,"lineHeight":8.5,"color":"#333"},"encoding":{"x":{"datum":20.5,"type":"quantitative"},"y":{"datum":62.1,"type":"quantitative"}}}]},
  {"width":190,"height":160,"title":{"text":"(l)","dx":-44},"data":{"name":"l"},"layer":[
   {"mark":{"type":"point","filled":true,"size":22,"color":"#0000ff","opacity":1},"encoding":{"x":{"field":"pred","type":"quantitative","scale":{"domain":[-14,483],"nice":false,"zero":false},"axis":{"title":"Prediction values (mg/L)","values":[0,100,200,300,400]}},"y":{"field":"true","type":"quantitative","scale":{"domain":[-15,486],"nice":false,"zero":false},"axis":{"title":"Irue values (mg/L)","values":[0,100,200,300,400]}}}},
   {"mark":{"type":"rule","color":"#ff3b3b","strokeDash":[3,2],"strokeWidth":1},"encoding":{"x":{"aggregate":"min","field":"pred","type":"quantitative"},"y":{"aggregate":"min","field":"pred","type":"quantitative"},"x2":{"aggregate":"max","field":"pred"},"y2":{"aggregate":"max","field":"pred"}}},
   {"data":{"name":"one"},"mark":{"type":"text","text":["R² = 0.9978","RMSE = 5.84"],"align":"left","baseline":"top","fontSize":7,"lineHeight":8.5,"color":"#333"},"encoding":{"x":{"datum":56.6,"type":"quantitative"},"y":{"datum":464,"type":"quantitative"}}}]}
 ]}
],
"config":{
 "font":"DejaVu Sans",
 "view":{"stroke":"#999","strokeWidth":1},
 "axis":{"grid":false,"domain":false,"ticks":true,"tickSize":2,"tickCount":30,"tickColor":"#555","labelFontSize":10,"labelColor":"#333","labelFlush":false,"labelOverlap":false,"labelPadding":1,"titleFontSize":10,"titleFontWeight":"normal","titleColor":"#333","titlePadding":1},
 "title":{"font":"Liberation Sans","fontSize":18,"fontWeight":"normal","color":"#000","anchor":"start","frame":"group","offset":-26,"baseline":"alphabetic"}
}
}
